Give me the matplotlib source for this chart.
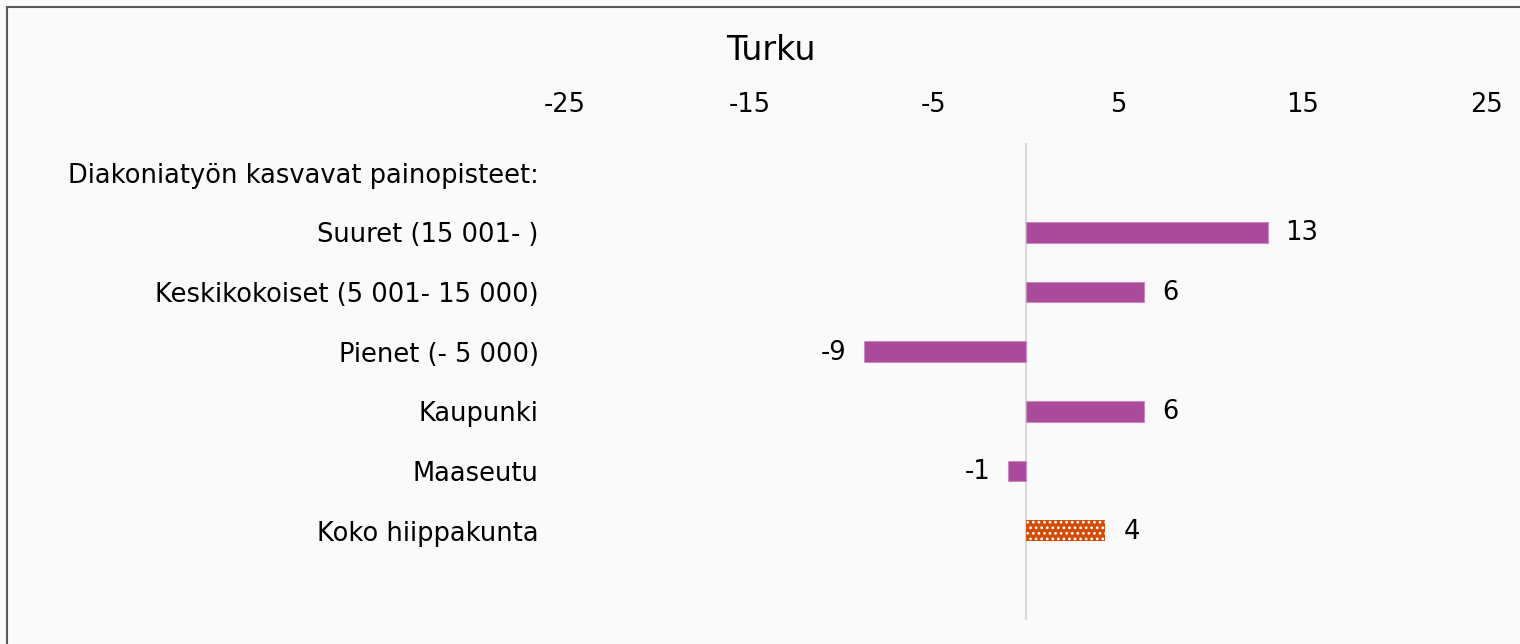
import numpy as np
import matplotlib
matplotlib.use("Agg")
import matplotlib.pyplot as plt
from matplotlib.patches import Rectangle

# Données
categories = ["Diakoniatyön kasvavat painopisteet:", "Suuret (15 001- )",
              "Keskikokoiset (5 001- 15 000)", "Pienet (- 5 000)",
              "Kaupunki", "Maaseutu", "Koko hiippakunta", ""]
values = [np.nan, 13.1, 6.4, -8.8, 6.4, -1.0, 4.3, np.nan]
xticks = [-25, -15, -5, 5, 15, 25]
title = "Turku"

purple = "#a94a9a"
orange = "#d24b00"
bg = "#fafafa"

plt.rcParams['font.family'] = ['DejaVu Sans']
plt.rcParams['hatch.linewidth'] = 1.2

fig = plt.figure(figsize=(15.2, 6.44), dpi=100, facecolor=bg)
ax = fig.add_axes([565 / 1520, 1 - 620 / 644, (1487 - 565) / 1520, (620 - 143) / 644])
ax.set_facecolor(bg)

y = np.arange(len(categories))
for i, v in enumerate(values):
    if np.isnan(v):
        continue
    if categories[i] == "Koko hiippakunta":
        ax.barh(i, v, height=0.35, color=orange, edgecolor="white",
                hatch="...", linewidth=0)
    else:
        ax.barh(i, v, height=0.35, color=purple, edgecolor="#c98abf", linewidth=0.8)
    # étiquette de valeur
    if v >= 0:
        ax.annotate(f"{round(v):d}", (v, i), xytext=(18, -1), textcoords="offset pixels",
                    ha="left", va="center", fontsize=18.5)
    else:
        ax.annotate(f"{round(v):d}", (v, i), xytext=(-17, -1), textcoords="offset pixels",
                    ha="right", va="center", fontsize=18.5)

ax.axvline(0, color="#d9d9d9", linewidth=1.5, zorder=0)

ax.set_xlim(-25, 25)
ax.set_ylim(len(categories) - 0.5, -0.5)
ax.set_xticks(xticks)
ax.set_xticklabels([str(t) for t in xticks], fontsize=18.5)
ax.xaxis.tick_top()
ax.tick_params(axis="x", length=0, pad=18)
ax.set_yticks(y)
ax.set_yticklabels(categories, fontsize=18.5)
ax.tick_params(axis="y", length=0, pad=19)
for s in ax.spines.values():
    s.set_visible(False)

fig.text(771 / 1520, 1 - 51 / 644, title, ha="center", va="center", fontsize=24)

# cadre du graphique
fig.patches.append(Rectangle((7 / 1520, -0.1), 1.2, 1 - 7 / 644 + 0.1,
                             transform=fig.transFigure, fill=False,
                             edgecolor="#595959", linewidth=1.5))

fig.savefig("out.png", dpi=100, facecolor=bg)
